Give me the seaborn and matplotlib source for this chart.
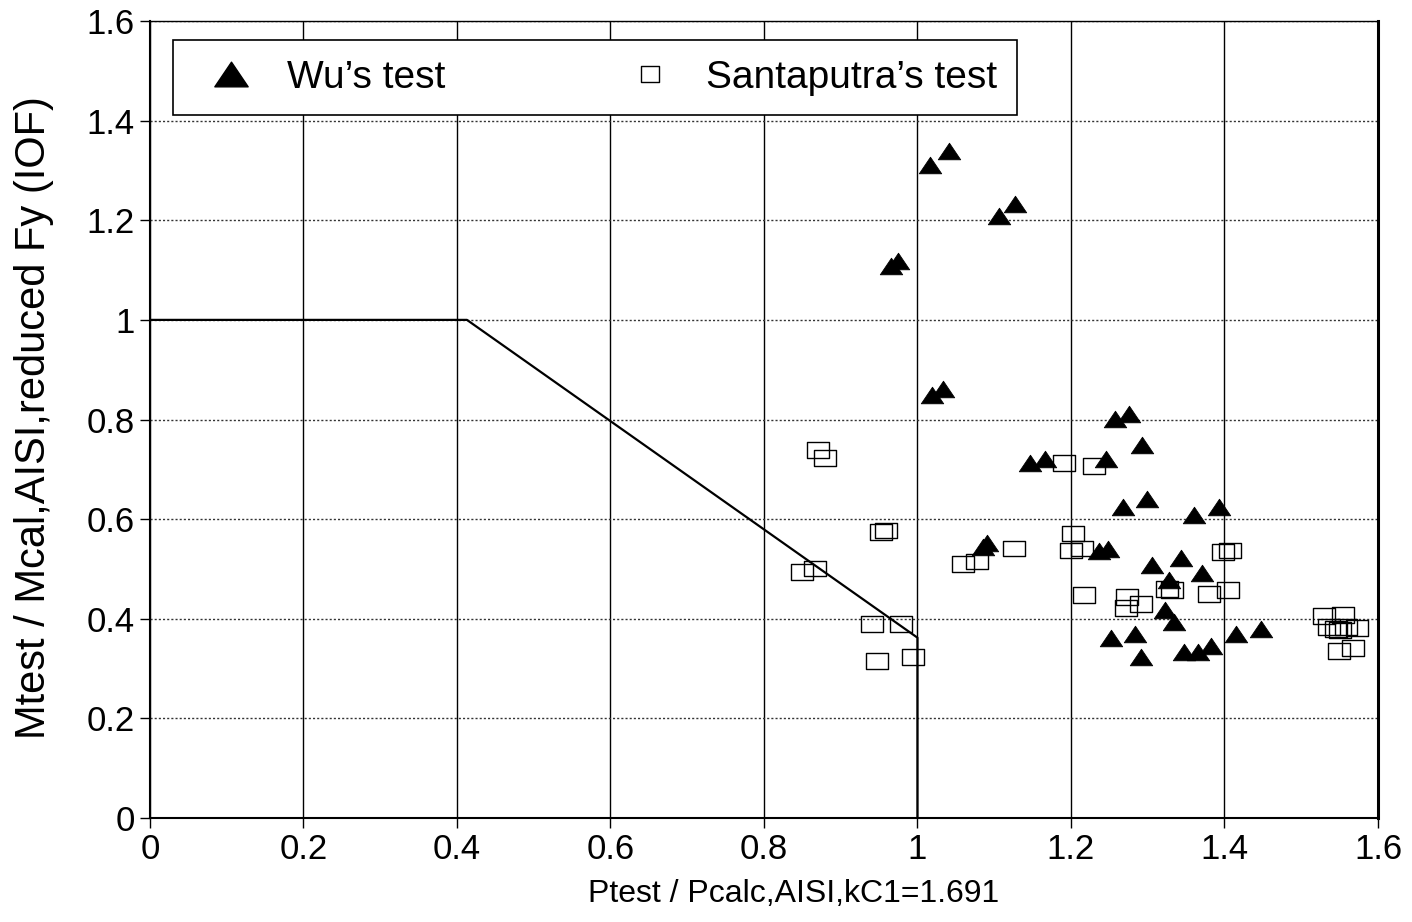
import numpy as np
import pandas as pd
import matplotlib
matplotlib.use("Agg")
import matplotlib.pyplot as plt
from matplotlib.path import Path
from matplotlib.lines import Line2D
import seaborn as sns

# Wu's test (filled triangles)
wu_x = [1.016, 1.041, 1.106, 1.127, 0.966, 0.974, 1.019, 1.033, 1.258, 1.276,
        1.293, 1.147, 1.166, 1.246, 1.268, 1.299, 1.360, 1.393, 1.085, 1.090,
        1.237, 1.248, 1.305, 1.343, 1.371, 1.328, 1.322, 1.334, 1.252, 1.283,
        1.291, 1.347, 1.365, 1.382, 1.415, 1.448]
wu_y = [1.310, 1.339, 1.208, 1.232, 1.108, 1.118, 0.849, 0.861, 0.801, 0.811,
        0.748, 0.713, 0.721, 0.721, 0.624, 0.640, 0.608, 0.624, 0.545, 0.552,
        0.536, 0.540, 0.507, 0.522, 0.492, 0.477, 0.418, 0.394, 0.362, 0.370,
        0.323, 0.333, 0.334, 0.345, 0.370, 0.380]

# Santaputra's test (open squares)
sant_x = [0.870, 0.880, 0.953, 0.959, 0.850, 0.866, 0.941, 0.979, 0.947, 0.994,
          1.059, 1.077, 1.126, 1.191, 1.230, 1.203, 1.200, 1.215, 1.217, 1.273,
          1.272, 1.291, 1.325, 1.332, 1.380, 1.404, 1.398, 1.407, 1.530, 1.555,
          1.536, 1.545, 1.551, 1.558, 1.573, 1.549, 1.567]
sant_y = [0.738, 0.723, 0.574, 0.577, 0.494, 0.501, 0.390, 0.390, 0.315, 0.324,
          0.510, 0.515, 0.541, 0.713, 0.707, 0.571, 0.537, 0.541, 0.447, 0.444,
          0.421, 0.430, 0.460, 0.457, 0.450, 0.457, 0.534, 0.537, 0.405, 0.408,
          0.383, 0.380, 0.378, 0.383, 0.382, 0.335, 0.341]

# interaction curve
line_x = [0.0, 0.413, 1.0, 1.0]
line_y = [1.0, 1.0, 0.362, 0.0]

ticks = [0, 0.2, 0.4, 0.6, 0.8, 1, 1.2, 1.4, 1.6]
tick_labels = ["0", "0.2", "0.4", "0.6", "0.8", "1", "1.2", "1.4", "1.6"]

sns.set_style("white")
plt.rcParams['font.family'] = ['Liberation Sans', 'DejaVu Sans']
plt.rcParams['text.color'] = 'black'
plt.rcParams['axes.labelcolor'] = 'black'

# markers are a bit wider than tall in the original
tri = Path([(-1, -0.74), (1, -0.74), (0, 0.74), (-1, -0.74)],
           [Path.MOVETO, Path.LINETO, Path.LINETO, Path.CLOSEPOLY])
box = Path([(-1, -0.72), (1, -0.72), (1, 0.72), (-1, 0.72), (-1, -0.72)],
           [Path.MOVETO, Path.LINETO, Path.LINETO, Path.LINETO, Path.CLOSEPOLY])
sq = Path([(-1, -0.9), (1, -0.9), (1, 0.9), (-1, 0.9), (-1, -0.9)],
          [Path.MOVETO, Path.LINETO, Path.LINETO, Path.LINETO, Path.CLOSEPOLY])

fig = plt.figure(figsize=(14.12, 9.22), dpi=100)
ax = fig.add_axes([0.1062, 0.1128, 0.8697, 0.8644])

sns.lineplot(x=line_x, y=line_y, sort=False, estimator=None, color="black",
             lw=1.6, ax=ax, zorder=2)
sns.scatterplot(x=sant_x, y=sant_y, marker=box, s=250, facecolor="none",
                edgecolor="black", linewidth=1.0, ax=ax, zorder=3, legend=False)
sns.scatterplot(x=wu_x, y=wu_y, marker=tri, s=260, color="black",
                edgecolor="black", linewidth=0.6, ax=ax, zorder=4, legend=False)

ax.set_xlim(0, 1.6)
ax.set_ylim(0, 1.6)
ax.set_xticks(ticks)
ax.set_xticklabels(tick_labels)
ax.set_yticks(ticks)
ax.set_yticklabels(tick_labels)
ax.tick_params(axis="both", direction="out", length=7, width=1, labelsize=25,
               pad=4, left=True, bottom=True, colors="black")

ax.set_axisbelow(True)
ax.grid(axis="x", color="black", lw=1.0, ls="-")
ax.grid(axis="y", color="#333333", lw=1.0, ls=(0, (1.5, 1.5)))

for side, lw in [("left", 1.5), ("bottom", 1.5), ("right", 2.2), ("top", 1.0)]:
    ax.spines[side].set_visible(True)
    ax.spines[side].set_color("black")
    ax.spines[side].set_linewidth(lw)

ax.set_xlabel("Ptest / Pcalc,AISI,kC1=1.691", fontsize=23)
ax.set_ylabel("Mtest / Mcal,AISI,reduced Fy (IOF)", fontsize=30)
ax.xaxis.set_label_coords(0.524, -0.077)
ax.yaxis.set_label_coords(-0.078, 0.503)

handles = [
    Line2D([], [], marker=tri, color="black", ls="none", markersize=24),
    Line2D([], [], marker=sq, markerfacecolor="none", markeredgecolor="black",
           ls="none", markersize=13, mew=1.0),
]
leg = ax.legend(handles, ["Wu\u2019s test", "Santaputra\u2019s test"], ncol=2,
                loc="upper left", bbox_to_anchor=(0.0187, 0.976, 0.687, 0.0),
                mode="expand", borderaxespad=0, fancybox=False, framealpha=1,
                edgecolor="black", fontsize=28, borderpad=0.5,
                handlelength=2.0, handletextpad=0.44)
leg.get_frame().set_linewidth(1.2)

fig.savefig("out.png", dpi=100)
